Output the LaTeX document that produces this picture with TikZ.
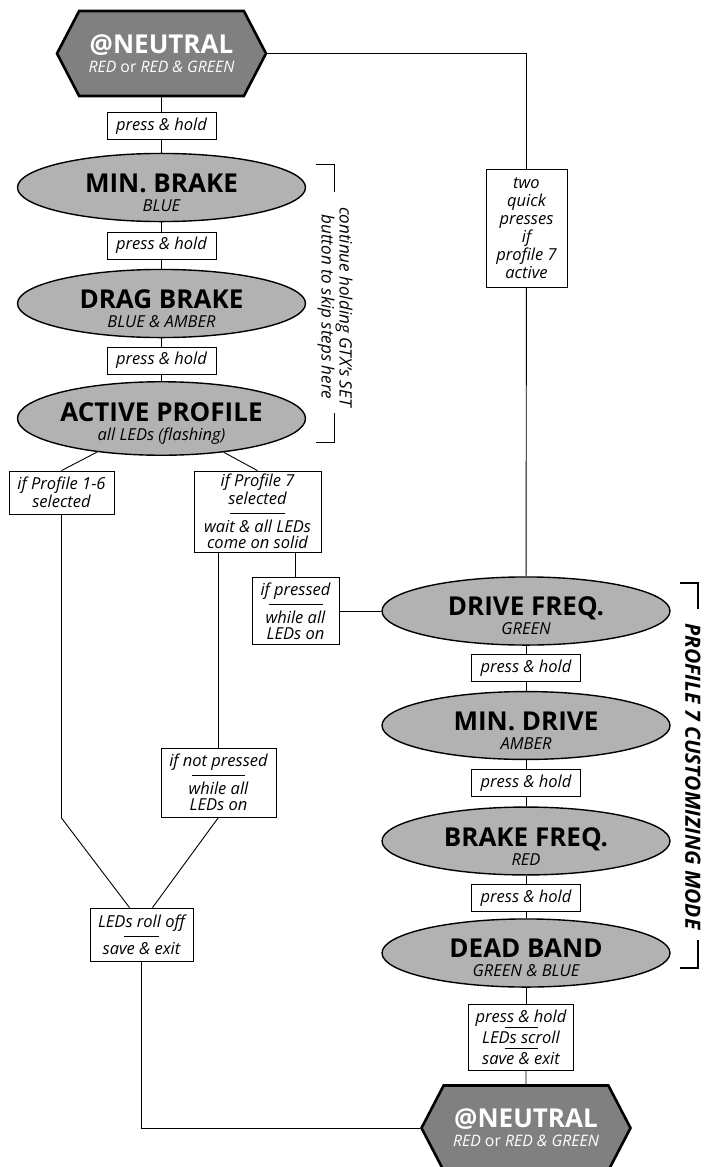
\documentclass[tikz,border=0pt]{standalone}
\usepackage{fontspec}
\setmainfont{Open Sans}
\usepackage{tikz}
\usetikzlibrary{shapes.geometric,shapes.symbols,positioning}

\newcommand{\mainlbl}[1]{{\fontsize{26}{19}\selectfont\bfseries #1}}
\newcommand{\ledlbl}[1]{{\itshape #1}}
\newcommand{\statetext}[2]{\rule{0pt}{29pt}\mainlbl{#1}\\\ledlbl{#2}}
\newcommand{\hsep}[3]{\\[#2pt]\rule{#1pt}{0.7pt}\\[#3pt]}

\begin{document}
\begin{tikzpicture}[x=1pt,y=-1pt,
    state/.style={ellipse, draw, line width=1.4pt, fill=black!30, minimum width=288, minimum height=64, inner sep=0pt, align=center, text=black, font=\fontsize{16.5}{19}\selectfont},
    neutral/.style={signal, signal to=east and west, signal pointer angle=125, draw, line width=2.6pt, fill=black!50, minimum width=209, minimum height=85, inner sep=0pt, align=center, text=white, font=\fontsize{15.8}{19}\selectfont},
    cond/.style={draw, line width=0.8pt, fill=white, align=center, inner sep=0pt, font=\fontsize{16.5}{16}\selectfont\itshape},
    hold/.style={cond, minimum width=109, minimum height=27},
    wire/.style={line width=0.9pt}]
    \useasboundingbox (0,0) rectangle (706,1167);

    % left column
    \node[neutral] (n1) at (161.5, 53.5) {\mainlbl{@NEUTRAL}\\\ledlbl{RED} or \ledlbl{RED \& GREEN}};
    \node[hold] (p1) at (161.5, 126) {press \& hold};
    \node[state] (e1) at (161.5, 187.5) {\statetext{MIN. BRAKE}{BLUE}};
    \node[hold] (p2) at (161.5, 245.5) {press \& hold};
    \node[state] (e2) at (161.5, 303.5) {\statetext{DRAG BRAKE}{BLUE \& AMBER}};
    \node[hold] (p3) at (161.5, 360.5) {press \& hold};
    \node[state] (e3) at (161.5, 418.5) {\statetext{ACTIVE PROFILE}{all LEDs (flashing)}};

    % branches
    \node[cond, minimum width=105, minimum height=43] (b1) at (61.5, 492.5) {if Profile 1-6\\selected};
    \node[cond, minimum width=127, minimum height=81] (b2) at (257.5, 511.5) {if Profile 7\\selected\hsep{55}{-7}{3}wait \& all LEDs\\come on solid};
    \node[cond, minimum width=87, minimum height=67] (b3) at (295.5, 611) {if pressed\hsep{54}{-7}{3}while all\\LEDs on};
    \node[cond, minimum width=115, minimum height=69] (b4) at (218.5, 782.5) {if not pressed\hsep{53}{-7}{3}while all\\LEDs on};
    \node[cond, minimum width=103, minimum height=53] (b5) at (141.5, 934.5) {LEDs roll off\hsep{35}{-7}{2}save \& exit};
    \node[cond, minimum width=81, minimum height=118, font=\fontsize{16.5}{18}\selectfont\itshape] (b6) at (526.5, 228) {two\\quick\\presses\\if\\profile 7\\active};
    \coordinate (c1) at (61.5, 818);

    % right column
    \node[state] (e4) at (526, 611) {\statetext{DRIVE FREQ.}{GREEN}};
    \node[hold] (p4) at (526, 668) {press \& hold};
    \node[state] (e5) at (526, 725.5) {\statetext{MIN. DRIVE}{AMBER}};
    \node[hold] (p5) at (526, 783) {press \& hold};
    \node[state] (e6) at (526, 841) {\statetext{BRAKE FREQ.}{RED}};
    \node[hold] (p6) at (526, 898) {press \& hold};
    \node[state] (e7) at (526, 953) {\statetext{DEAD BAND}{GREEN \& BLUE}};
    \node[cond, minimum width=105, minimum height=66] (b7) at (521, 1037) {press \& hold\hsep{33}{-11}{0}LEDs scroll\hsep{33}{-11}{0}save \& exit};
    \node[neutral] (n2) at (526, 1128) {\mainlbl{@NEUTRAL}\\\ledlbl{RED} or \ledlbl{RED \& GREEN}};

    % side notes
    \node[rotate=-90, align=center, font=\fontsize{17}{16}\selectfont\itshape] (t1) at (335, 307) {continue holding GTX’s SET\\button to skip steps here};
    \node[rotate=-90, font=\fontsize{21}{21}\selectfont\bfseries\itshape] (t2) at (693, 776.5) {PROFILE 7 CUSTOMIZING MODE};
    \draw[wire] (316,164) -- (334,164) -- (334,192);
    \draw[wire] (334,413) -- (334,442) -- (316,442);
    \draw[line width=1.6pt] (680,583) -- (698,583) -- (698,609);
    \draw[line width=1.6pt] (698,940) -- (698,968) -- (680,968);

    \path[wire]
        (n1) edge (p1)
        (p1) edge (e1)
        (e1) edge (p2)
        (p2) edge (e2)
        (e2) edge (p3)
        (p3) edge (e3)
        (e3) edge (b1.north)
        (e3) edge (b2.north)
        (b6) edge (e4)
        (b3) edge (e4)
        (e4) edge (p4)
        (p4) edge (e5)
        (e5) edge (p5)
        (p5) edge (e6)
        (e6) edge (p6)
        (p6) edge (e7);
    \draw[wire] (n1.east) -| (b6.north);
    \draw[wire] (b1) -- (c1) -- ([xshift=-12pt]b5.north);
    \draw[wire] (b4.north) -- (b4.north |- b2.south);
    \draw[wire] (b4.south) -- ([xshift=11pt]b5.north);
    \draw[wire] (b3.north) -- (b3.north |- b2.south);
    \draw[wire] (e7) -- (e7 |- b7.north);
    \draw[wire] (b7.south -| n2) -- (n2);
    \draw[wire] (b5) |- (n2.west);
\end{tikzpicture}
\end{document}
